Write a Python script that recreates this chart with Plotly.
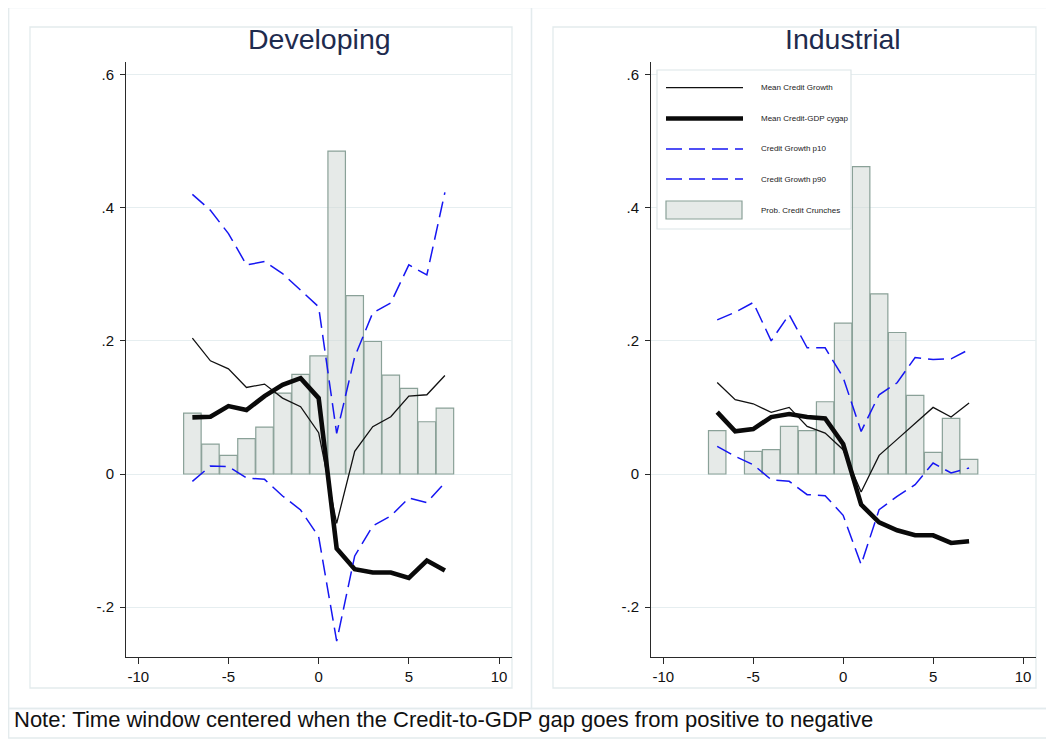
import plotly.graph_objects as go

# ---------------- data ----------------
t = list(range(-7, 8))

dev_mean_growth = [0.204, 0.170, 0.158, 0.130, 0.135, 0.114, 0.101, 0.062,
                   -0.074, 0.034, 0.071, 0.086, 0.117, 0.119, 0.148]
dev_cygap = [0.085, 0.086, 0.102, 0.096, 0.117, 0.134, 0.144, 0.114,
             -0.112, -0.143, -0.148, -0.148, -0.156, -0.130, -0.145]
dev_p10 = [-0.011, 0.012, 0.011, -0.006, -0.008, -0.033, -0.054, -0.094,
           -0.251, -0.123, -0.078, -0.063, -0.036, -0.043, -0.013]
dev_p90 = [0.420, 0.396, 0.361, 0.314, 0.319, 0.301, 0.276, 0.251,
           0.061, 0.176, 0.242, 0.257, 0.314, 0.299, 0.423]
dev_prob = [0.0915, 0.045, 0.028, 0.053, 0.0705, 0.1215, 0.1495, 0.1775,
            0.485, 0.268, 0.199, 0.1485, 0.1285, 0.0785, 0.099]

ind_mean_growth = [0.1375, 0.1115, 0.1055, 0.0925, 0.100, 0.0715, 0.0615, 0.0365,
                   -0.027, 0.028, 0.052, 0.076, 0.100, 0.0855, 0.1065]
ind_cygap = [0.093, 0.064, 0.0675, 0.0855, 0.090, 0.0855, 0.0835, 0.045,
             -0.046, -0.0725, -0.0845, -0.092, -0.092, -0.1035, -0.101]
ind_p10 = [0.0415, 0.0265, 0.014, -0.0085, -0.011, -0.031, -0.0325, -0.062,
           -0.136, -0.0535, -0.0335, -0.016, 0.0165, 0.0015, 0.009]
ind_p90 = [0.2315, 0.243, 0.2575, 0.200, 0.2395, 0.1895, 0.1895, 0.145,
           0.064, 0.119, 0.137, 0.175, 0.172, 0.173, 0.187]
ind_prob = [0.065, None, 0.034, 0.0365, 0.0715, 0.065, 0.1085, 0.2265,
            0.4617, 0.2705, 0.2125, 0.118, 0.0325, 0.0835, 0.022]

panel_titles = ["Developing", "Industrial"]
series_names = ["Mean Credit Growth", "Mean Credit-GDP cygap",
                "Credit Growth p10", "Credit Growth p90", "Prob. Credit Crunches"]
x_ticks = [-10, -5, 0, 5, 10]
x_ticktext = ["-10", "-5", "0", "5", "10"]
y_ticks = [-0.2, 0, 0.2, 0.4, 0.6]
y_ticktext = ["-.2", "0", ".2", ".4", ".6"]
note_text = "Note: Time window centered when the Credit-to-GDP gap goes from positive to negative"

# ---------------- styling ----------------
# the page body has an 8px margin, so the figure sits at (8, 8) in the window
OFF = 8
W, H = 1054 - 2 * OFF, 751 - 2 * OFF
FONT = "Liberation Sans, Arial, sans-serif"
FRAME = "#E3EBED"
GRID = "#E6EEF0"
AXIS = "#2a2a2a"
BAR_FILL = "rgba(205,214,210,0.5)"
BAR_LINE = "#8AA198"
BLUE = "#1616F2"
DASH = "16px,7px"
THIN = dict(color="#111111", width=1.3)
THICK = dict(color="#0a0a0a", width=4.6)
DASHED = dict(color=BLUE, width=1.5, dash=DASH)


def px(x):
    return (x - OFF) / W


def py(y):
    return 1 - (y - OFF) / H


fig = go.Figure()

panels = [
    (dev_prob, dev_mean_growth, dev_cygap, dev_p10, dev_p90, "x", "y"),
    (ind_prob, ind_mean_growth, ind_cygap, ind_p10, ind_p90, "x2", "y2"),
]
for prob, mg, cg, p10, p90, xa, ya in panels:
    fig.add_trace(go.Bar(x=t, y=prob, width=0.97, name=series_names[4],
                         marker=dict(color=BAR_FILL, line=dict(color=BAR_LINE, width=1.2)),
                         xaxis=xa, yaxis=ya, showlegend=False))
    fig.add_trace(go.Scatter(x=t, y=mg, mode="lines", line=THIN, name=series_names[0],
                             xaxis=xa, yaxis=ya, showlegend=False))
    fig.add_trace(go.Scatter(x=t, y=cg, mode="lines", line=THICK, name=series_names[1],
                             xaxis=xa, yaxis=ya, showlegend=False))
    fig.add_trace(go.Scatter(x=t, y=p10, mode="lines", line=DASHED, name=series_names[2],
                             xaxis=xa, yaxis=ya, showlegend=False))
    fig.add_trace(go.Scatter(x=t, y=p90, mode="lines", line=DASHED, name=series_names[3],
                             xaxis=xa, yaxis=ya, showlegend=False))

ydom = [py(657), py(62)]
xdom_left = [px(126), px(512)]
xdom_right = [px(651), px(1036)]
xr = [-10.68, 10.72]
yr = [-0.2748, 0.6187]

xcommon = dict(range=xr, tickvals=x_ticks, ticktext=x_ticktext, ticks="outside", ticklen=6,
               tickcolor=AXIS, tickwidth=1, showline=True, linecolor=AXIS, linewidth=1,
               showgrid=False, zeroline=False,
               tickfont=dict(family=FONT, size=15, color="#111"), fixedrange=True)
ycommon = dict(range=yr, tickvals=y_ticks, ticktext=y_ticktext, ticks="outside", ticklen=5,
               tickcolor=AXIS, tickwidth=1, showline=True, linecolor=AXIS, linewidth=1,
               showgrid=True, gridcolor=GRID, gridwidth=1.3, zeroline=False,
               tickfont=dict(family=FONT, size=15, color="#111"), ticklabelstandoff=3,
               fixedrange=True)

fig.update_layout(
    width=W, height=H,
    margin=dict(l=0, r=0, t=0, b=0),
    paper_bgcolor="white", plot_bgcolor="rgba(0,0,0,0)",
    showlegend=False, barmode="overlay",
    xaxis=dict(domain=xdom_left, anchor="y", **xcommon),
    yaxis=dict(domain=ydom, anchor="x", **ycommon),
    xaxis2=dict(domain=xdom_right, anchor="y2", **xcommon),
    yaxis2=dict(domain=ydom, anchor="x2", **ycommon),
)

shapes = []


def rect(x0, y0, x1, y1, color=FRAME, width=1.3, fill="rgba(0,0,0,0)", layer="below"):
    shapes.append(dict(type="rect", xref="paper", yref="paper",
                       x0=px(x0), x1=px(x1), y0=py(y1), y1=py(y0),
                       line=dict(color=color, width=width), fillcolor=fill, layer=layer))


def hline(x0, x1, y, **line):
    shapes.append(dict(type="line", xref="paper", yref="paper",
                       x0=px(x0), x1=px(x1), y0=py(y), y1=py(y), line=line, layer="above"))


# frames (Stata graph regions); right edges run past the page edge as in the reference
rect(8.7, 7.7, 531.5, 708.5)
rect(531.5, 7.7, 1070, 708.5)
rect(8.7, 708.5, 1070, 738)
rect(30, 27, 512, 688)
rect(553, 27, 1036, 688)

# legend box (right panel)
rect(657, 70, 851, 229, color="#DCE5E7", width=1.2, fill="white", layer="above")
leg_rows = [87.7, 118.5, 149, 179, 210]
hline(666, 743, leg_rows[0], **THIN)
hline(666, 743, leg_rows[1], **THICK)
hline(666, 743, leg_rows[2], **DASHED)
hline(666, 743, leg_rows[3], **DASHED)
rect(666, 201, 742, 219, color=BAR_LINE, width=1.2, fill="#E6EAE8", layer="above")

annotations = []
for name, yrow in zip(series_names, leg_rows):
    annotations.append(dict(text=name, xref="paper", yref="paper", x=px(759), y=py(yrow),
                            xanchor="left", yanchor="middle", showarrow=False,
                            font=dict(family=FONT, size=8, color="#222")))

for title, dom in zip(panel_titles, [xdom_left, xdom_right]):
    annotations.append(dict(text=title, xref="paper", yref="paper", x=(dom[0] + dom[1]) / 2,
                            y=py(39), xanchor="center", yanchor="middle", showarrow=False,
                            font=dict(family=FONT, size=28.5, color="#1E2B4E")))

annotations.append(dict(text=note_text, xref="paper", yref="paper", x=px(12), y=py(719),
                        xanchor="left", yanchor="middle", showarrow=False,
                        font=dict(family=FONT, size=22, color="#111")))

fig.update_layout(shapes=shapes, annotations=annotations)

fig.write_html("out.html")
